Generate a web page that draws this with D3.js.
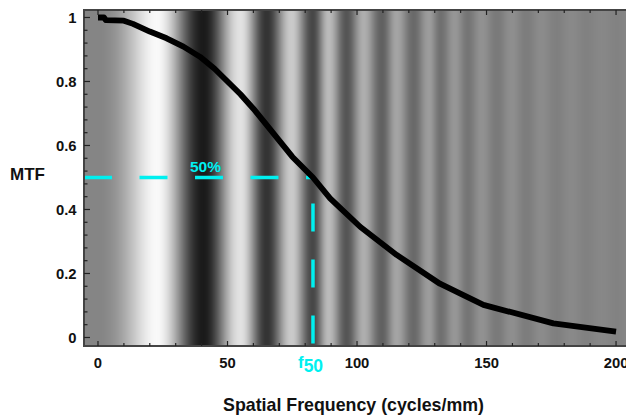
<!DOCTYPE html>
<html>
<head>
<meta charset="utf-8">
<script src="https://cdn.jsdelivr.net/npm/d3@7"></script>
<style>
  html, body { margin: 0; padding: 0; background: #ffffff; }
  svg { display: block; font-family: "Liberation Sans", Arial, sans-serif; font-weight: bold; }
</style>
</head>
<body>
<svg id="chart" width="626" height="417"></svg>
<script>
// Measured MTF curve (spatial frequency in cycles/mm -> modulation)
const freq = [0, 2.3, 3, 10, 13.5, 20, 26.5, 33, 39.4, 45, 50, 55, 60, 65, 70.3, 75, 83, 89.6, 101.2, 115.3, 132, 148.8, 175.8, 200];
const mtf  = [1.0, 1.0, 0.992, 0.99, 0.98, 0.956, 0.935, 0.909, 0.877, 0.84, 0.80, 0.76, 0.715, 0.665, 0.612, 0.565, 0.5, 0.435, 0.346, 0.258, 0.168, 0.102, 0.044, 0.018];

// Frequencies of the alternating light / dark stripes of the swept-sine target
const stripeFreq = [22.8, 40.9, 55.2, 65.3, 74.9, 83.0, 89.2, 96.1, 102.7, 109.7, 115.4, 122.0, 127.8, 132.4,
                    137.8, 142.9, 148.3, 154.1, 159.8, 165.6, 171.4, 177.2, 183.0, 188.8, 194.6, 200.4, 206.2];

// Axis ticks
const xTicks = [0, 50, 100, 150, 200];
const xMinor = d3.range(0, 206, 10);
const yTicks = [0, 0.2, 0.4, 0.6, 0.8, 1];
const yTickLabels = ["0", "0.2", "0.4", "0.6", "0.8", "1"];
const yMinor = d3.range(0, 1.021, 0.04);

// 50% modulation marker
const halfLevel = 0.5;
const f50 = 83;

const cyan = "#00f0f0";
const svg = d3.select("#chart");

const plot = { left: 84, top: 10, right: 629, bottom: 346 };
const x = d3.scaleLinear().domain([-5.4, 205]).range([plot.left, plot.right]);
const y = d3.scaleLinear().domain([-0.0266, 1.0234]).range([plot.bottom, plot.top]);

const mtfAt = d3.scaleLinear().domain(freq).range(mtf).clamp(true);

// phase of the swept target, in half cycles (0 = first light stripe)
function halfCycles(f) {
  if (f <= 0) return -0.5;
  const s0 = stripeFreq[0];
  if (f < s0) return -0.5 + 0.5 * (f / s0) * (f / s0);
  const n = stripeFreq.length;
  if (f >= stripeFreq[n - 1]) {
    const step = stripeFreq[n - 1] - stripeFreq[n - 2];
    return (n - 1) + (f - stripeFreq[n - 1]) / step;
  }
  const i = d3.bisectRight(stripeFreq, f) - 1;
  return i + (f - stripeFreq[i]) / (stripeFreq[i + 1] - stripeFreq[i]);
}

const clipId = "plotClip";
svg.append("clipPath").attr("id", clipId)
  .append("rect")
  .attr("x", plot.left).attr("y", plot.top)
  .attr("width", plot.right - plot.left).attr("height", plot.bottom - plot.top);

// Swept-sine target, contrast attenuated by the MTF
const columns = d3.range(Math.floor(plot.left), Math.ceil(plot.right));
const bg = svg.append("g").attr("clip-path", `url(#${clipId})`).attr("shape-rendering", "crispEdges");
bg.selectAll("rect")
  .data(columns)
  .join("rect")
  .attr("x", d => d)
  .attr("y", plot.top)
  .attr("width", 1.05)
  .attr("height", plot.bottom - plot.top)
  .attr("fill", d => {
    const f = x.invert(d + 0.5);
    const a = f < 0 ? 1 : mtfAt(f);
    const v = 0.52 + 0.48 * a * Math.cos(Math.PI * halfCycles(f));
    const g = Math.round(255 * Math.max(0, Math.min(1, v)));
    return `rgb(${g},${g},${g})`;
  });

// Dashed 50% guides
const guides = svg.append("g").attr("clip-path", `url(#${clipId})`);
guides.append("line")
  .attr("x1", x(-5.4)).attr("x2", x(f50))
  .attr("y1", y(halfLevel)).attr("y2", y(halfLevel))
  .attr("stroke", cyan).attr("stroke-width", 3.5)
  .attr("stroke-dasharray", "28,27.5");
guides.append("line")
  .attr("x1", x(f50)).attr("x2", x(f50))
  .attr("y1", y(-0.0266)).attr("y2", y(halfLevel))
  .attr("stroke", cyan).attr("stroke-width", 3.5)
  .attr("stroke-dasharray", "28,28")
  .attr("stroke-dashoffset", 53.5);

// MTF curve
const line = d3.line().x((d, i) => x(freq[i])).y(d => y(d));
svg.append("path")
  .datum(mtf)
  .attr("clip-path", `url(#${clipId})`)
  .attr("d", line)
  .attr("fill", "none")
  .attr("stroke", "#000")
  .attr("stroke-width", 5.8)
  .attr("stroke-linejoin", "round");

// Frame and ticks
const frameColor = "#444";
svg.append("rect")
  .attr("x", plot.left).attr("y", plot.top)
  .attr("width", plot.right - plot.left).attr("height", plot.bottom - plot.top)
  .attr("fill", "none").attr("stroke", frameColor).attr("stroke-width", 2);

const ticks = svg.append("g").attr("stroke", "#222").attr("stroke-width", 1.2);
const isMajorX = v => xTicks.some(t => Math.abs(t - v) < 1e-6);
const isMajorY = v => yTicks.some(t => Math.abs(t - v) < 1e-6);
xMinor.forEach(v => {
  const len = isMajorX(v) ? 5 : 3;
  ticks.append("line").attr("x1", x(v)).attr("x2", x(v))
    .attr("y1", plot.bottom).attr("y2", plot.bottom - len);
  ticks.append("line").attr("x1", x(v)).attr("x2", x(v))
    .attr("y1", plot.top).attr("y2", plot.top + len);
});
yMinor.forEach(v => {
  const len = isMajorY(v) ? 6 : 3.5;
  ticks.append("line").attr("x1", plot.left).attr("x2", plot.left + len)
    .attr("y1", y(v)).attr("y2", y(v));
});

// Tick labels
svg.append("g").selectAll("text")
  .data(xTicks)
  .join("text")
  .attr("x", d => x(d))
  .attr("y", 367.5)
  .attr("text-anchor", "middle")
  .attr("font-size", 14.8)
  .attr("fill", "#111")
  .text(d => d);

svg.append("g").selectAll("text")
  .data(yTicks)
  .join("text")
  .attr("x", 76.5)
  .attr("y", d => y(d) + 5.3)
  .attr("text-anchor", "end")
  .attr("font-size", 14.8)
  .attr("fill", "#111")
  .text((d, i) => yTickLabels[i]);

// Axis titles
svg.append("text")
  .attr("x", 353.5).attr("y", 410.5)
  .attr("text-anchor", "middle")
  .attr("font-size", 17.8)
  .attr("fill", "#111")
  .text("Spatial Frequency (cycles/mm)");

svg.append("text")
  .attr("x", 10).attr("y", 179.5)
  .attr("font-size", 17)
  .attr("fill", "#111")
  .text("MTF");

// Annotations
svg.append("text")
  .attr("x", x(41.5)).attr("y", 172)
  .attr("text-anchor", "middle")
  .attr("font-size", 15.5)
  .attr("fill", cyan)
  .text("50%");

const fLabel = svg.append("text")
  .attr("x", x(f50) - 15).attr("y", 367.5)
  .attr("font-size", 17)
  .attr("fill", cyan);
fLabel.append("tspan").text("f");
fLabel.append("tspan").attr("dy", 4.5).attr("font-size", 17.5).text("50");
</script>
</body>
</html>
